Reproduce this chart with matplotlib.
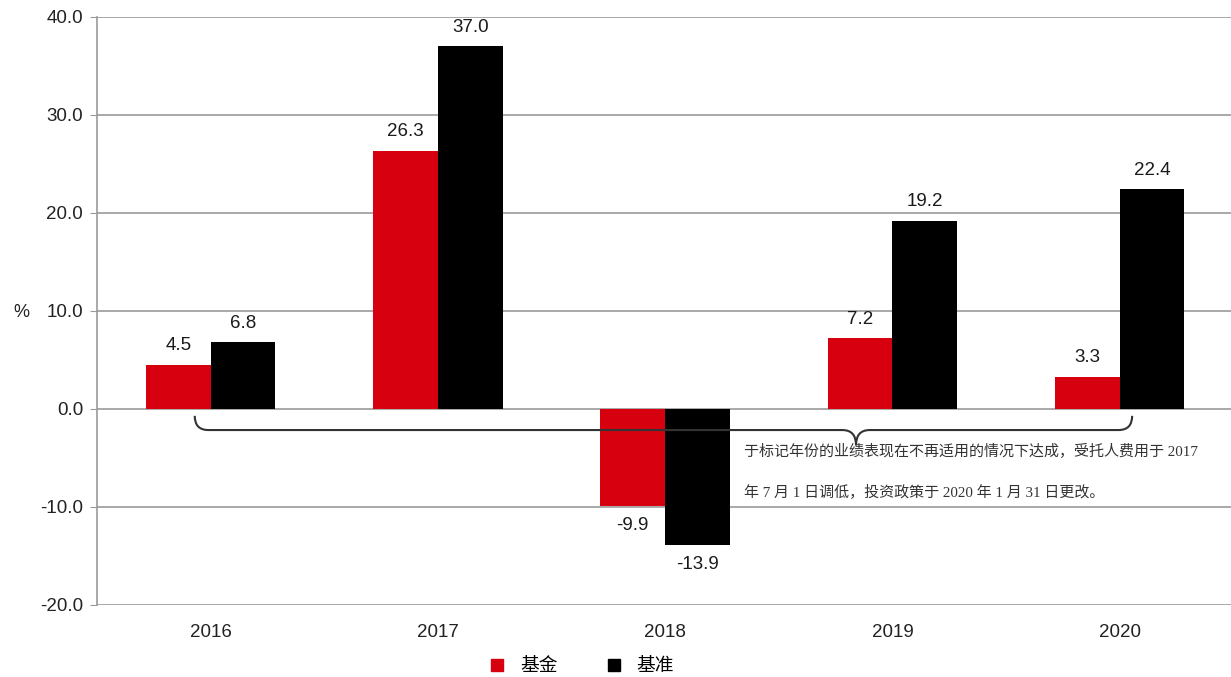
import numpy as np
import matplotlib.pyplot as plt
from matplotlib.path import Path
from matplotlib.patches import PathPatch
from matplotlib.lines import Line2D

years = ['2016', '2017', '2018', '2019', '2020']
fund = [4.5, 26.3, -9.9, 7.2, 3.3]
benchmark = [6.8, 37.0, -13.9, 19.2, 22.4]
yticks = [-20, -10, 0, 10, 20, 30, 40]
note_lines = ['于标记年份的业绩表现在不再适用的情况下达成，受托人费用于 2017',
              '年 7 月 1 日调低，投资政策于 2020 年 1 月 31 日更改。']

RED = '#d7000f'
GRID = '#9a9a9a'
SANS = ['Liberation Sans', 'DejaVu Sans']
SERIF = ['Liberation Serif', 'Noto Sans CJK SC', 'DejaVu Sans']

fig = plt.figure(figsize=(12.31, 6.77), dpi=100)
ax = fig.add_axes([0.0788, 0.1064, 0.9212, 0.8685])

x = np.arange(len(years))
w = 0.285
ax.bar(x - w / 2, fund, w, color=RED, zorder=3)
ax.bar(x + w / 2, benchmark, w, color='black', zorder=3)

# value labels
for xs, vals in [(x - w / 2, fund), (x + w / 2, benchmark)]:
    for xi, v in zip(xs, vals):
        off = 1.1 if v >= 0 else -1.1
        ax.text(xi, v + off, f'{v:.1f}', ha='center', va='bottom' if v >= 0 else 'top',
                fontsize=13.5, family=SANS, color='#1a1a1a')

ax.set_xlim(-0.5, 4.49)
ax.set_ylim(-20, 40)
ax.set_yticks(yticks)
ax.set_yticklabels([f'{t:.1f}' for t in yticks], family=SANS, fontsize=13.5, color='#222222')
ax.set_xticks(x)
ax.set_xticklabels(years, family=SANS, fontsize=13.5, color='#222222')
ax.tick_params(axis='x', length=0, pad=14)
ax.tick_params(axis='y', length=5, color=GRID, pad=5)
ax.yaxis.grid(True, color=GRID, linewidth=1.2, zorder=0)
for s in ['top', 'right', 'bottom']:
    ax.spines[s].set_visible(False)
ax.spines['left'].set_color(GRID)
ax.spines['left'].set_linewidth(1.2)
ax.spines['left'].set_zorder(4)

fig.text(0.0105, 0.538, '%', fontsize=13, family=SANS, color='#222222', va='center')

# curly brace under the bars
x0, x1, xt = -0.07, 4.055, 2.84
ytop, ymid, ybot = -0.7, -2.15, -3.7
d = 0.06
verts = [(x0, ytop), (x0, ymid), (x0 + d, ymid),
         (xt - d, ymid), (xt, ymid), (xt, ybot),
         (xt, ymid), (xt + d, ymid),
         (x1 - d, ymid), (x1, ymid), (x1, ytop)]
codes = [Path.MOVETO, Path.CURVE3, Path.CURVE3,
         Path.LINETO, Path.CURVE3, Path.CURVE3,
         Path.CURVE3, Path.CURVE3,
         Path.LINETO, Path.CURVE3, Path.CURVE3]
ax.add_patch(PathPatch(Path(verts, codes), fill=False, edgecolor='#333333', lw=1.5, zorder=5))

for yy, line in zip([-4.39, -8.47], note_lines):
    ax.text(2.348, yy, line, fontsize=10.8, family=SERIF, color='#333333',
            va='center', ha='left', zorder=6)

# legend
handles = [Line2D([], [], marker='s', ls='', color=RED, markersize=8),
           Line2D([], [], marker='s', ls='', color='black', markersize=8)]
fig.legend(handles, ['基金', '基准'], loc='center', bbox_to_anchor=(0.468, 0.015),
           ncol=2, frameon=False, prop={'family': SERIF, 'size': 13.5},
           handletextpad=0.2, columnspacing=2.0)

fig.savefig('out.png', dpi=100)
